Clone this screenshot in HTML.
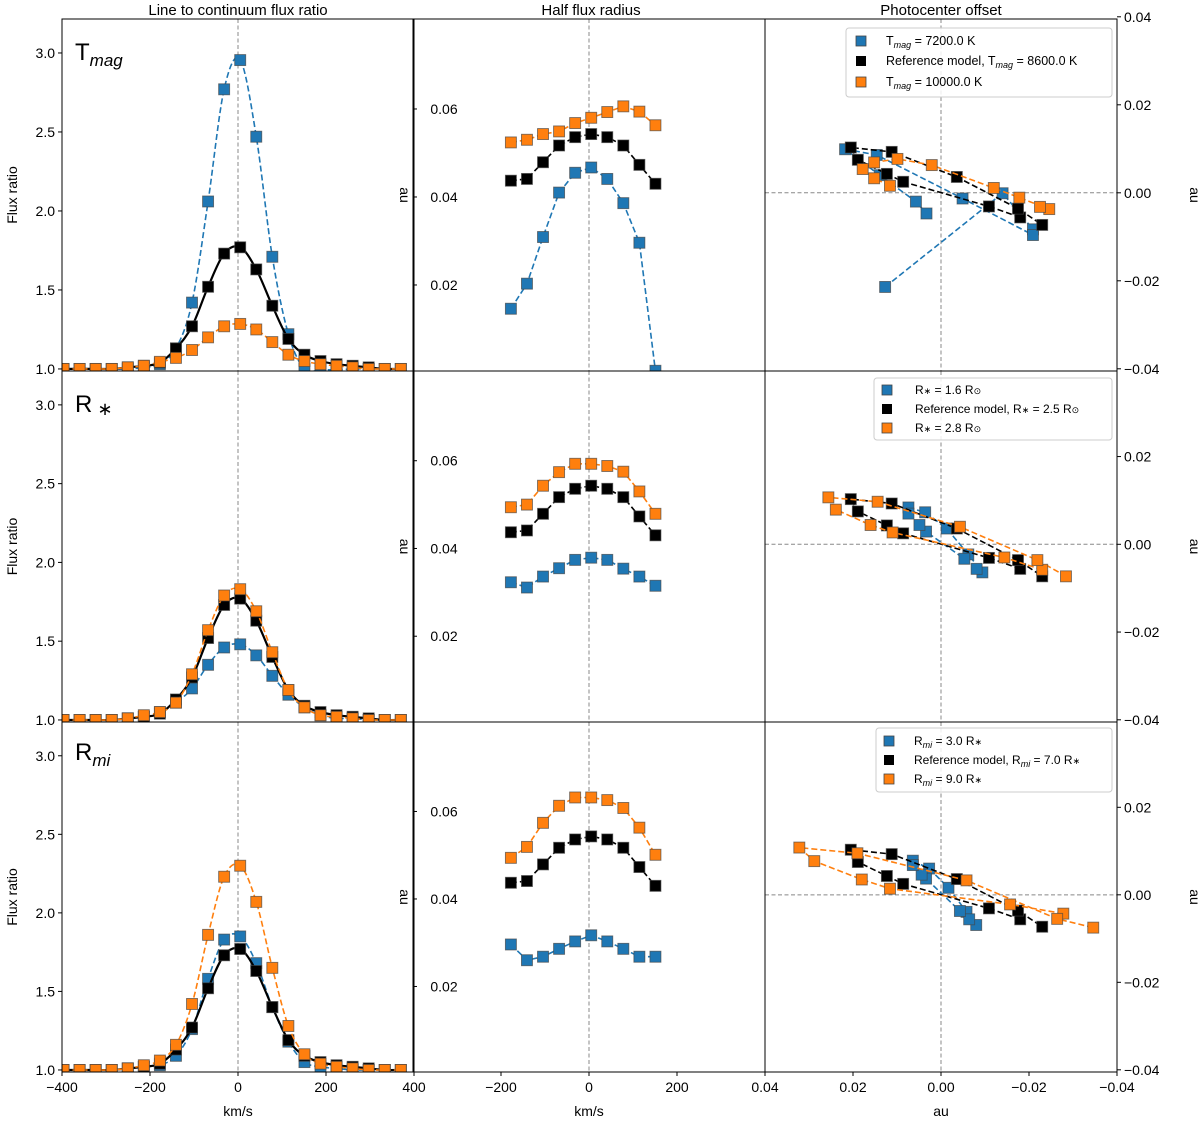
<!DOCTYPE html>
<html><head><meta charset="utf-8"><style>
body{margin:0;background:#fff}
svg{display:block;font-family:"Liberation Sans","DejaVu Sans",sans-serif}
</style></head><body>
<svg id="fig" width="1200" height="1122" viewBox="0 0 1200 1122" xmlns="http://www.w3.org/2000/svg"></svg>
<script>
// ---------- data ----------
const fluxK = [-11,-10,-9,-8,-7,-6,-5,-4,-3,-2,-1,0,1,2,3,4,5,6,7,8,9,10];
const velStep = 36.5, velOffset = 5;
const fluxRef = [1.0,1.0,1.0,1.0,1.01,1.02,1.04,1.13,1.27,1.52,1.73,1.77,1.63,1.40,1.19,1.09,1.05,1.03,1.02,1.01,1.0,1.0];
const fluxTlow = [1.0,1.0,1.0,1.0,1.0,1.01,1.03,1.13,1.42,2.06,2.77,2.955,2.47,1.71,1.22,1.0,0.995,0.995,1.0,1.0,1.0,1.0];
const fluxThigh = [1.0,1.0,1.0,1.0,1.01,1.02,1.045,1.07,1.12,1.20,1.27,1.285,1.25,1.17,1.09,1.05,1.03,1.02,1.01,1.0,1.0,1.0];
const fluxRlow = [1.0,1.0,1.0,1.0,1.01,1.02,1.05,1.11,1.20,1.35,1.46,1.48,1.41,1.28,1.16,1.08,1.03,1.01,1.01,1.0,1.0,1.0];
const fluxRhigh = [1.0,1.0,1.0,1.0,1.01,1.03,1.05,1.11,1.29,1.57,1.79,1.83,1.69,1.43,1.19,1.08,1.03,1.02,1.01,1.0,1.0,1.0];
const fluxMlow = [1.0,1.0,1.0,1.0,1.01,1.02,1.03,1.09,1.26,1.58,1.83,1.85,1.68,1.40,1.18,1.05,1.02,1.01,1.0,1.0,1.0,1.0];
const fluxMhigh = [1.0,1.0,1.0,1.0,1.01,1.03,1.06,1.16,1.42,1.86,2.23,2.30,2.07,1.65,1.28,1.10,1.04,1.02,1.01,1.0,1.0,1.0];

const radK = [-5,-4,-3,-2,-1,0,1,2,3,4];
const radRef = [0.0437,0.0441,0.0479,0.0517,0.0536,0.0543,0.0536,0.0517,0.0473,0.0430];
const radTlow = [0.0146,0.0203,0.0309,0.0410,0.0455,0.0467,0.0441,0.0386,0.0296,0.0005];
const radThigh = [0.0524,0.0530,0.0543,0.0549,0.0568,0.0580,0.0593,0.0606,0.0594,0.0563];
const radRlow = [0.0323,0.0311,0.0336,0.0355,0.0374,0.0379,0.0374,0.0354,0.0336,0.0315];
const radRhigh = [0.0494,0.0500,0.0543,0.0574,0.0593,0.0593,0.0588,0.0575,0.0530,0.0479];
const radMlow = [0.0296,0.0260,0.0268,0.0286,0.0303,0.0317,0.0303,0.0286,0.0268,0.0268];
const radMhigh = [0.0494,0.0519,0.0574,0.0613,0.0632,0.0632,0.0626,0.0608,0.0563,0.0501];

const pcRefX = [-0.0180,-0.0109,0.0086,0.0123,0.0189,0.0205,0.0112,-0.0036,-0.0175,-0.0230];
const pcRefY = [-0.0056,-0.0031,0.0025,0.0043,0.0075,0.0103,0.0093,0.0036,-0.0036,-0.0073];
const pcTlowX = [0.0127,-0.0140,-0.0209,-0.0209,-0.0049,0.0146,0.0218,0.0139,0.0057,0.0033];
const pcTlowY = [-0.0214,-0.0001,-0.0083,-0.0096,-0.0013,0.0086,0.0099,0.0040,-0.0020,-0.0047];
const pcThighX = [0.0116,0.0152,0.0178,0.0152,0.0099,0.0021,-0.0120,-0.0178,-0.0246,-0.0225];
const pcThighY = [0.0016,0.0033,0.0054,0.0069,0.0077,0.0063,0.0011,-0.0011,-0.0037,-0.0032];
const pcRlowX = [0.0074,0.0036,-0.0013,-0.0062,-0.0094,-0.0081,-0.0053,0.0034,0.0049,0.0074];
const pcRlowY = [0.0084,0.0073,0.0036,-0.0023,-0.0064,-0.0056,-0.0033,0.0029,0.0044,0.0070];
const pcRhighX = [-0.0230,-0.0144,0.0110,0.0160,0.0239,0.0256,0.0144,-0.0043,-0.0219,-0.0284];
const pcRhighY = [-0.0058,-0.0030,0.0027,0.0044,0.0079,0.0107,0.0097,0.0040,-0.0036,-0.0073];
const pcMlowX = [0.0064,0.0027,-0.0017,-0.0058,-0.0080,-0.0064,-0.0043,0.0034,0.0044,0.0064];
const pcMlowY = [0.0078,0.0060,0.0016,-0.0039,-0.0069,-0.0056,-0.0037,0.0037,0.0046,0.0068];
const pcMhighX = [-0.0278,-0.0157,0.0116,0.0180,0.0288,0.0322,0.0190,-0.0058,-0.0264,-0.0346];
const pcMhighY = [-0.0043,-0.0022,0.0014,0.0035,0.0077,0.0108,0.0095,0.0033,-0.0055,-0.0075];

const fluxTicks = [1.0,1.5,2.0,2.5,3.0];
const velTicks1 = [-400,-200,0,200,400];
const velTicks2 = [-200,0,200];
const radTicks = [0.02,0.04,0.06];
const pcTicks = [0.04,0.02,0.00,-0.02,-0.04];

// ---------- geometry ----------
const NS = "http://www.w3.org/2000/svg";
const svg = document.getElementById('fig');
const X0 = [62,413,765], W = [352,352,352];
const Y0 = [19,371,722], H = [352,351,350];
const BLUE = "#1f77b4", ORANGE = "#ff7f0e", BLACK = "#000";
function el(tag, attrs, parent){ const e = document.createElementNS(NS, tag); for (const k in attrs) e.setAttribute(k, attrs[k]); (parent||svg).appendChild(e); return e; }
function vel(k){ return velOffset + velStep*k; }
const sx1 = v => X0[0] + (v+400)/800*W[0];
const sx2 = v => X0[1] + (v+400)/800*W[1];
const sy1 = (r,f) => Y0[r] + (3.215 - f)/(3.215-0.987)*H[r];
const sy2 = (r,a) => Y0[r] + (0.08045 - a)/0.08*H[r];
const sx3 = a => X0[2] + (0.04 - a)/0.08*W[2];
const sy3 = (r,a) => Y0[r] + (0.0395 - a)/0.08*H[r];

function smoothPath(pts){
  let d = "M"+pts[0][0]+","+pts[0][1];
  for (let i=0;i<pts.length-1;i++){
    const p0=pts[Math.max(0,i-1)], p1=pts[i], p2=pts[i+1], p3=pts[Math.min(pts.length-1,i+2)];
    const c1=[p1[0]+(p2[0]-p0[0])/6, p1[1]+(p2[1]-p0[1])/6];
    const c2=[p2[0]-(p3[0]-p1[0])/6, p2[1]-(p3[1]-p1[1])/6];
    d += " C"+c1[0].toFixed(1)+","+c1[1].toFixed(1)+" "+c2[0].toFixed(1)+","+c2[1].toFixed(1)+" "+p2[0].toFixed(1)+","+p2[1].toFixed(1);
  }
  return d;
}
function linePath(pts){ return pts.map((p,i)=>(i?"L":"M")+p[0].toFixed(1)+","+p[1].toFixed(1)).join(" "); }

// clip paths
const defs = el('defs',{});
for (let r=0;r<3;r++) for (let c=0;c<3;c++){
  const cp = el('clipPath',{id:'clip'+r+c},defs);
  el('rect',{x:X0[c],y:Y0[r],width:W[c],height:H[r]},cp);
}

function series(r, c, pts, color, solid, smooth, name){
  const g = el('g',{'clip-path':'url(#clip'+r+c+')'});
  
  
  const p = el('path',{d: smooth?smoothPath(pts):linePath(pts), fill:'none', stroke:color, 'stroke-width': solid?2.2:1.6, 'stroke-dasharray': solid?'none':'6,3'}, g);
  
  
  pts.forEach(pt=>{
    const m = el('rect',{x:pt[0]-5.5,y:pt[1]-5.5,width:11,height:11,fill:color,stroke:'#444','stroke-width':0.9,'stroke-opacity':0.7},g);
    
    
  });
}
function txt(x,y,s,attrs,name){
  const t = el('text',Object.assign({x:x,y:y,'font-size':14,fill:'#000'},attrs||{}));
  t.textContent = s;
  
  
  return t;
}
const minus = v => String(v).replace('-','\u2212');

// guide lines
for (let r=0;r<3;r++){
  const g1 = el('line',{x1:sx1(0),x2:sx1(0),y1:Y0[r],y2:Y0[r]+H[r],stroke:'#888','stroke-width':1,'stroke-dasharray':'4,2.5'});
   
  const g2 = el('line',{x1:sx2(0),x2:sx2(0),y1:Y0[r],y2:Y0[r]+H[r],stroke:'#888','stroke-width':1,'stroke-dasharray':'4,2.5'});
   
  const g3 = el('line',{x1:sx3(0),x2:sx3(0),y1:Y0[r],y2:Y0[r]+H[r],stroke:'#888','stroke-width':1,'stroke-dasharray':'4,2.5'});
   
  const g4 = el('line',{x1:X0[2],x2:X0[2]+W[2],y1:sy3(r,0),y2:sy3(r,0),stroke:'#888','stroke-width':1,'stroke-dasharray':'4,2.5'});
   
}

// series
const fluxSets = [[fluxTlow,fluxThigh],[fluxRlow,fluxRhigh],[fluxMlow,fluxMhigh]];
const radSets = [[radTlow,radThigh],[radRlow,radRhigh],[radMlow,radMhigh]];
const pcSets = [[pcTlowX,pcTlowY,pcThighX,pcThighY],[pcRlowX,pcRlowY,pcRhighX,pcRhighY],[pcMlowX,pcMlowY,pcMhighX,pcMhighY]];
for (let r=0;r<3;r++){
  const fp = arr => fluxK.map((k,i)=>[sx1(vel(k)), sy1(r,arr[i])]);
  const rp = arr => radK.map((k,i)=>[sx2(vel(k)), sy2(r,arr[i])]);
  const pp = (ax,ay) => ax.map((x,i)=>[sx3(x), sy3(r,ay[i])]);
  const order = r===0 ? ['low','ref','high'] : r===1 ? ['low','ref','high'] : ['low','high','ref'];
  // flux ratio
  const fdraw = {low:()=>series(r,0,fp(fluxSets[r][0]),BLUE,false,true,'flux-low-series'),
                 ref:()=>series(r,0,fp(fluxRef),BLACK,true,true,'flux-reference-series'),
                 high:()=>series(r,0,fp(fluxSets[r][1]),ORANGE,false,true,'flux-high-series')};
  (r===2?['low','ref','high']:order).forEach(o=>fdraw[o]());
  series(r,1,rp(radSets[r][0]),BLUE,false,false,'radius-low-series');
  series(r,1,rp(radRef),BLACK,false,false,'radius-reference-series');
  series(r,1,rp(radSets[r][1]),ORANGE,false,false,'radius-high-series');
  series(r,2,pp(pcSets[r][0],pcSets[r][1]),BLUE,false,false,'offset-low-series');
  series(r,2,pp(pcRefX,pcRefY),BLACK,false,false,'offset-reference-series');
  series(r,2,pp(pcSets[r][2],pcSets[r][3]),ORANGE,false,false,'offset-high-series');
}

// frames
for (let r=0;r<3;r++) for (let c=0;c<3;c++){
  const f = el('rect',{x:X0[c],y:Y0[r],width:W[c],height:H[r],fill:'none',stroke:'#000','stroke-width':1});
   
}

// axes ticks
for (let r=0;r<3;r++){
  fluxTicks.forEach(t=>{ const y=sy1(r,t); el('line',{x1:X0[0]-4,x2:X0[0],y1:y,y2:y,stroke:'#000'}); txt(X0[0]-7,y+5,t.toFixed(1),{'text-anchor':'end'},'flux-tick-label'); });
  txt(17,Y0[r]+H[r]/2,'Flux ratio',{'text-anchor':'middle',transform:'rotate(-90 17 '+(Y0[r]+H[r]/2)+')'},'flux-axis-title');
  radTicks.forEach(t=>{ const y=sy2(r,t); el('line',{x1:X0[1],x2:X0[1]+4,y1:y,y2:y,stroke:'#000'}); txt(444,y+5,t.toFixed(2),{'text-anchor':'middle'},'radius-tick-label'); });
  txt(400,Y0[r]+H[r]/2,'au',{'text-anchor':'middle',transform:'rotate(90 400 '+(Y0[r]+H[r]/2)+')'},'radius-axis-title');
  pcTicks.forEach(t=>{ const y=sy3(r,t); if(y<Y0[r]-2&&r>0) return; el('line',{x1:X0[2]+W[2],x2:X0[2]+W[2]+4,y1:y,y2:y,stroke:'#000'}); txt(1124,y+5,minus(t.toFixed(2)),{'text-anchor':'start'},'offset-y-tick-label'); });
  txt(1190,Y0[r]+H[r]/2,'au',{'text-anchor':'middle',transform:'rotate(90 1190 '+(Y0[r]+H[r]/2)+')'},'offset-axis-title');
}
const yb = Y0[2]+H[2];
velTicks1.forEach(t=>{ const x=sx1(t); el('line',{x1:x,x2:x,y1:yb,y2:yb+4,stroke:'#000'}); txt(x,yb+20,minus(t),{'text-anchor':'middle'},'velocity-tick-label'); });
velTicks2.forEach(t=>{ const x=sx2(t); el('line',{x1:x,x2:x,y1:yb,y2:yb+4,stroke:'#000'}); txt(x,yb+20,minus(t),{'text-anchor':'middle'},'velocity-tick-label'); });
pcTicks.forEach(t=>{ const x=sx3(t); el('line',{x1:x,x2:x,y1:yb,y2:yb+4,stroke:'#000'}); txt(x,yb+20,minus(t.toFixed(2)),{'text-anchor':'middle'},'offset-x-tick-label'); });
txt(sx1(0),1116,'km/s',{'text-anchor':'middle'},'velocity-axis-title');
txt(sx2(0),1116,'km/s',{'text-anchor':'middle'},'velocity-axis-title');
txt(941,1116,'au',{'text-anchor':'middle'},'offset-x-axis-title');

// titles
txt(238,15,'Line to continuum flux ratio',{'text-anchor':'middle','font-size':15},'flux-ratio-title');
txt(591,15,'Half flux radius',{'text-anchor':'middle','font-size':15},'half-flux-radius-title');
txt(941,15,'Photocenter offset',{'text-anchor':'middle','font-size':15},'photocenter-offset-title');
</script>
<svg width="0" height="0"></svg>
<div style="position:absolute;left:0;top:0;width:1200px;height:1122px;pointer-events:none">
<svg width="1200" height="1122" style="position:absolute;left:0;top:0" font-family="Liberation Sans, DejaVu Sans, sans-serif">
  <text x="75" y="60" font-size="24">T<tspan font-size="17" font-style="italic" dy="6">mag</tspan></text>
  <text x="75" y="412" font-size="24">R<tspan font-size="18" dy="3"> ∗</tspan></text>
  <text x="75" y="760" font-size="24">R<tspan font-size="17" font-style="italic" dy="6">mi</tspan></text>

  <g font-size="12.5">
    <rect x="846" y="28" width="266" height="69" rx="3" fill="#fff" fill-opacity="0.85" stroke="#ccc"/>
    <rect x="856" y="36" width="10" height="10" fill="#1f77b4" stroke="#444" stroke-width="0.8"/>
    <text x="886" y="45">T<tspan font-size="9" font-style="italic" dy="3">mag</tspan><tspan dy="-3"> = 7200.0 K</tspan></text>
    <rect x="856" y="56" width="10" height="10" fill="#000"/>
    <text x="886" y="65">Reference model, T<tspan font-size="9" font-style="italic" dy="3">mag</tspan><tspan dy="-3"> = 8600.0 K</tspan></text>
    <rect x="856" y="77" width="10" height="10" fill="#ff7f0e" stroke="#444" stroke-width="0.8"/>
    <text x="886" y="86">T<tspan font-size="9" font-style="italic" dy="3">mag</tspan><tspan dy="-3"> = 10000.0 K</tspan></text>
  </g>
  <g font-size="12">
    <rect x="874" y="378" width="238" height="62" rx="3" fill="#fff" fill-opacity="0.85" stroke="#ccc"/>
    <rect x="882" y="385" width="10" height="10" fill="#1f77b4" stroke="#444" stroke-width="0.8"/>
    <text x="915" y="394">R<tspan font-size="9">∗</tspan> = 1.6 R<tspan font-size="9">⊙</tspan></text>
    <rect x="882" y="404" width="10" height="10" fill="#000"/>
    <text x="915" y="413">Reference model, R<tspan font-size="9">∗</tspan> = 2.5 R<tspan font-size="9">⊙</tspan></text>
    <rect x="882" y="423" width="10" height="10" fill="#ff7f0e" stroke="#444" stroke-width="0.8"/>
    <text x="915" y="432">R<tspan font-size="9">∗</tspan> = 2.8 R<tspan font-size="9">⊙</tspan></text>
  </g>
  <g font-size="12">
    <rect x="876" y="728" width="236" height="64" rx="3" fill="#fff" fill-opacity="0.85" stroke="#ccc"/>
    <rect x="884" y="736" width="10" height="10" fill="#1f77b4" stroke="#444" stroke-width="0.8"/>
    <text x="914" y="745">R<tspan font-size="9" font-style="italic" dy="3">mi</tspan><tspan dy="-3"> = 3.0 R</tspan><tspan font-size="9">∗</tspan></text>
    <rect x="884" y="755" width="10" height="10" fill="#000"/>
    <text x="914" y="764">Reference model, R<tspan font-size="9" font-style="italic" dy="3">mi</tspan><tspan dy="-3"> = 7.0 R</tspan><tspan font-size="9">∗</tspan></text>
    <rect x="884" y="774" width="10" height="10" fill="#ff7f0e" stroke="#444" stroke-width="0.8"/>
    <text x="914" y="783">R<tspan font-size="9" font-style="italic" dy="3">mi</tspan><tspan dy="-3"> = 9.0 R</tspan><tspan font-size="9">∗</tspan></text>
  </g>
</svg>
</div>
</body></html>
